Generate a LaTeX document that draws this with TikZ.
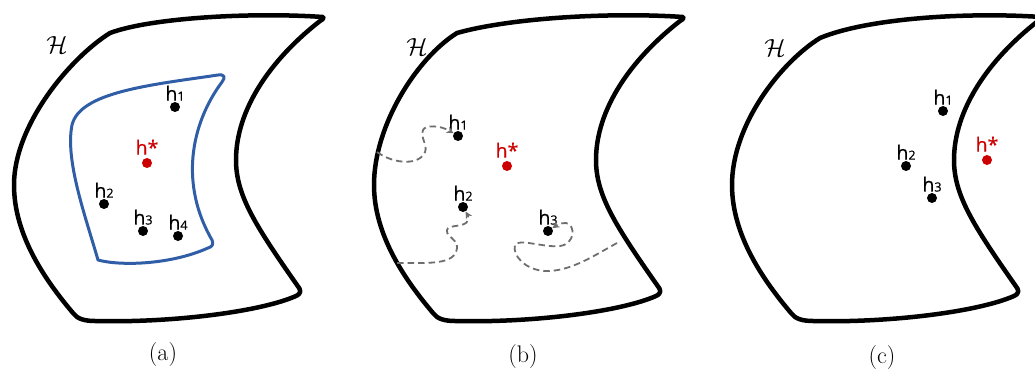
\documentclass[tikz,border=0pt]{standalone}
\usepackage{fontspec}
\newfontfamily\lblfont[FakeBold=0.6]{Open Sans}
\usetikzlibrary{arrows.meta,positioning}
\definecolor{blueC}{HTML}{2F5DA6}
\definecolor{redC}{HTML}{CC0000}
\definecolor{grayC}{HTML}{6E6E6E}
\newcommand{\hh}[1]{h{\fontsize{12.5}{13}\selectfont #1}}
\newcommand{\regionpath}[2]{%
  (323,17) .. controls (250,12) and (150,18) .. (#1,#2)
  .. controls ({#1-40},{#2+25}) and (14,125) .. (14,185)
  .. controls (14,235) and (45,280) .. (73,313)
  .. controls (77,319) and (85,321) .. (95,321)
  .. controls (170,323) and (260,312) .. (296,296)
  .. controls (302,293) and (301,290) .. (297,285)
  .. controls (255,225) and (236,195) .. (236,160)
  .. controls (236,110) and (270,60) .. (320,21)
  .. controls (324,19) and (324,17) .. cycle}
\begin{document}
\begin{tikzpicture}[x=1pt,y=-1pt,
  region/.style={line width=4.5pt, line join=round, draw=black},
  subregion/.style={line width=3pt, line join=round, draw=blueC},
  pt/.style={circle, fill=black, inner sep=0pt, minimum size=10pt},
  ptr/.style={pt, fill=redC},
  lbl/.style={font=\lblfont\fontsize{19.5}{20}\selectfont, inner sep=1pt},
  lblr/.style={lbl, text=redC},
  hyp/.style={font=\fontsize{25}{25}\selectfont},
  captxt/.style={font=\fontsize{24}{24}\selectfont},
  walk/.style={dash pattern=on 6.5pt off 4pt, line width=1.8pt, draw=grayC, -{Stealth[length=7pt,width=7pt]}}]
\useasboundingbox (0,0) rectangle (1035,372);
\clip (0,0) rectangle (1035,372);
% ---------- (a)
\draw[region] \regionpath{110}{33};
\draw[subregion] (98,260) .. controls (85,215) and (65,160) .. (72,125)
  .. controls (80,92) and (150,85) .. (218,75)
  .. controls (224,74) and (226,77) .. (222,82)
  .. controls (190,125) and (180,185) .. (212,240)
  .. controls (214,244) and (212,247) .. (208,248)
  .. controls (170,265) and (120,266) .. cycle;
\node[hyp] (a-H) at (57,45) {$\mathcal{H}$};
\node[pt] (a-h1) at (175,107) {};
\node[lbl, above=0pt of a-h1] {\hh{1}};
\node[ptr] (a-hs) at (147,163) {};
\node[lblr, above=2pt of a-hs] {h*};
\node[pt] (a-h2) at (104,204) {};
\node[lbl, above=0pt of a-h2] {\hh{2}};
\node[pt] (a-h3) at (143,231) {};
\node[lbl, above=0pt of a-h3] {\hh{3}};
\node[pt] (a-h4) at (178,236) {};
\node[lbl, above=0pt of a-h4] {\hh{4}};
\node[captxt] (a-cap) at (163,355) {(a)};
% ---------- (b)
\begin{scope}[xshift=360pt]
\draw[region] \regionpath{97}{33};
\end{scope}
\node[hyp] (b-H) at (417,47) {$\mathcal{H}$};
\node[pt] (b-h1) at (458,136) {};
\node[lbl, above=0pt of b-h1] {\hh{1}};
\node[ptr] (b-hs) at (507,166) {};
\node[lblr, above=2pt of b-hs] {h*};
\node[pt] (b-h2) at (463,207) {};
\node[lbl, above=0pt of b-h2] {\hh{2}};
\node[pt] (b-h3) at (548,231) {};
\node[lbl, above=0pt of b-h3] {\hh{3}};
\coordinate (b-s1) at (377,152);
\coordinate (b-s2) at (397,263);
\coordinate (b-s3) at (617,243);
\draw[walk] (b-s1) .. controls (395,165) and (420,165) .. (425,152)
  .. controls (428,145) and (420,138) .. (423,130)
  .. controls (425,125) and (440,125) .. (b-h1);
\draw[walk] (b-s2) .. controls (430,263) and (455,265) .. (457,248)
  .. controls (458,238) and (446,238) .. (447,230)
  .. controls (448,224) and (466,228) .. (468,220)
  .. controls (469,216) and (467,214) .. (b-h2);
\draw[walk] (b-s3) .. controls (595,255) and (570,272) .. (545,271)
  .. controls (525,270) and (512,255) .. (515,245)
  .. controls (518,238) and (545,248) .. (560,246)
  .. controls (575,244) and (576,225) .. (566,223)
  .. controls (560,223) and (557,225) .. (b-h3);
\node[captxt] (b-cap) at (523,357) {(b)};
% ---------- (c)
\begin{scope}[xshift=718pt]
\draw[region] \regionpath{102}{38};
\end{scope}
\node[hyp] (c-H) at (775,48) {$\mathcal{H}$};
\node[pt] (c-h1) at (943,111) {};
\node[lbl, above=0pt of c-h1] {\hh{1}};
\node[ptr] (c-hs) at (987,160) {};
\node[lblr, above=2pt of c-hs] {h*};
\node[pt] (c-h2) at (906,166) {};
\node[lbl, above=0pt of c-h2] {\hh{2}};
\node[pt] (c-h3) at (932,198) {};
\node[lbl, above=0pt of c-h3] {\hh{3}};
\node[captxt] (c-cap) at (882,358) {(c)};
\end{tikzpicture}
\end{document}
